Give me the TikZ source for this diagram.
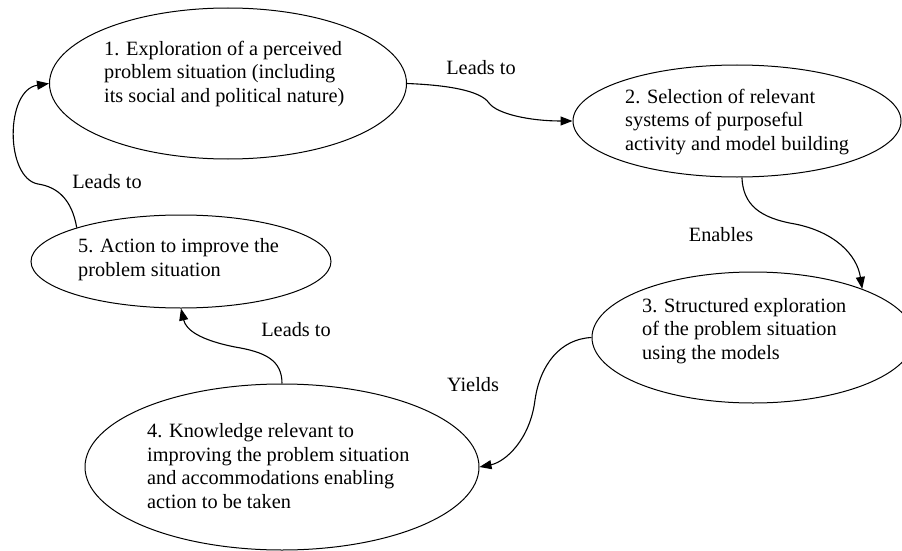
\documentclass[tikz,border=0pt]{standalone}
\usepackage{fontspec}
\setmainfont{Liberation Serif}
\usetikzlibrary{shapes.geometric,arrows.meta}

\tikzset{
  stage/.style={ellipse, draw=black, line width=1pt, inner sep=0pt},
  stagetext/.style={anchor=west, align=left, inner sep=0pt,
    font=\fontsize{20.3}{23.5}\selectfont},
  linklabel/.style={inner sep=0pt, font=\fontsize{20.3}{23.5}\selectfont},
  link/.style={line width=1.1pt, -{Triangle[length=12pt,width=9pt]}}
}

\begin{document}
\begin{tikzpicture}[x=1pt,y=-1pt]
\useasboundingbox (0,0) rectangle (902,551);

% the five stages
\node[stage, minimum width=357pt, minimum height=151pt] (e1) at (228,83.5) {};
\node[stage, minimum width=328pt, minimum height=112pt] (e2) at (737,121) {};
\node[stage, minimum width=322pt, minimum height=131pt] (e3) at (753,337.5) {};
\node[stage, minimum width=394pt, minimum height=166pt] (e4) at (282,467) {};
\node[stage, minimum width=300pt, minimum height=93pt] (e5) at (181,261.5) {};

\node[stagetext] (t1) at (104,74) {1. Exploration of a perceived\\problem situation (including\\its social and political nature)};
\node[stagetext] (t2) at (625,122) {2. Selection of relevant\\systems of purposeful\\activity and model building};
\node[stagetext] (t3) at (642,331) {3. Structured exploration\\of the problem situation\\using the models};
\node[stagetext] (t4) at (147,466) {4. Knowledge relevant to\\improving the problem situation\\and accommodations enabling\\action to be taken};
\node[stagetext] (t5) at (78,259.5) {5. Action to improve the\\problem situation};

% bends of the connectors
\coordinate (w12) at (489,103);
\coordinate (w23) at (795,224);
\coordinate (w34) at (535,400);
\coordinate (w45) at (235,347);
\coordinate (w51) at (38,184);

% connectors
\draw[link] (e1.east) .. controls (445,85) and (480,90) .. (w12)
  .. controls (497,114) and (530,121) .. (e2.west);
\draw[link] (e2.-85) .. controls (743,205) and (760,218) .. (w23)
  .. controls (835,232) and (857,255) .. (e3.24);
\draw[link] (e3.west) .. controls (560,339) and (540,365) .. (w34)
  .. controls (530,440) and (505,462) .. (e4.east);
\draw[link] (e4.north) .. controls (282,360) and (265,352) .. (w45)
  .. controls (200,340) and (186,330) .. (e5.south);
\draw[link] (e5.162) .. controls (72,200) and (58,187) .. (w51)
  .. controls (5,178) and (5,90) .. (e1.west);

% connector labels
\node[linklabel] (l12) at (481,68) {Leads to};
\node[linklabel] (l23) at (721,235) {Enables};
\node[linklabel] (l34) at (473,385) {Yields};
\node[linklabel] (l45) at (296,330) {Leads to};
\node[linklabel] (l51) at (107,182) {Leads to};
\end{tikzpicture}
\end{document}
